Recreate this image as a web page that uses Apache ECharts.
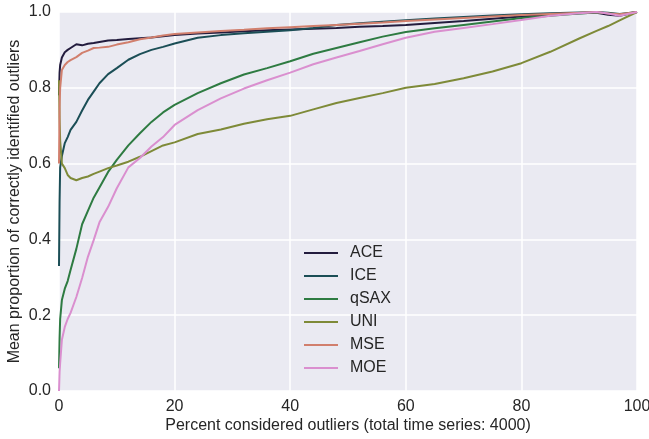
<!DOCTYPE html>
<html>
<head>
<meta charset="utf-8">
<script src="https://cdn.jsdelivr.net/npm/echarts@6/dist/echarts.min.js"></script>
<style>html,body{margin:0;padding:0;background:#fff}#c{width:649px;height:439px}</style>
</head>
<body>
<div id="c"></div>
<script>
const xs = [0, 0.1, 0.2, 0.5, 1, 1.5, 2, 3, 4, 5, 6, 7, 8.5, 10, 12, 14, 16, 18, 20, 24, 28, 32, 36, 40, 44, 48, 52, 56, 60, 65, 70, 75, 80, 85, 90, 93, 95, 97, 100];
const ACE  = [0.78, 0.84, 0.86, 0.88, 0.894, 0.90, 0.905, 0.915, 0.912, 0.916, 0.918, 0.921, 0.925, 0.926, 0.929, 0.931, 0.933, 0.936, 0.939, 0.943, 0.946, 0.949, 0.952, 0.954, 0.956, 0.958, 0.961, 0.963, 0.966, 0.971, 0.976, 0.982, 0.988, 0.993, 0.997, 0.998, 0.993, 0.990, 1.0];
const ICE  = [0.33, 0.50, 0.59, 0.62, 0.654, 0.67, 0.689, 0.71, 0.74, 0.768, 0.79, 0.812, 0.836, 0.852, 0.874, 0.889, 0.900, 0.908, 0.917, 0.932, 0.939, 0.944, 0.948, 0.952, 0.958, 0.966, 0.970, 0.974, 0.978, 0.983, 0.987, 0.991, 0.994, 0.997, 0.999, 1.0, 0.998, 0.995, 1.0];
const qSAX = [0.06, 0.14, 0.19, 0.24, 0.27, 0.29, 0.319, 0.375, 0.44, 0.475, 0.51, 0.537, 0.578, 0.61, 0.648, 0.68, 0.71, 0.735, 0.755, 0.786, 0.812, 0.835, 0.852, 0.87, 0.89, 0.905, 0.92, 0.935, 0.947, 0.957, 0.966, 0.975, 0.984, 0.99, 0.996, 0.999, 0.997, 0.993, 1.0];
const UNI  = [0.82, 0.72, 0.66, 0.60, 0.588, 0.57, 0.562, 0.556, 0.562, 0.566, 0.573, 0.579, 0.588, 0.595, 0.605, 0.618, 0.633, 0.648, 0.656, 0.678, 0.69, 0.705, 0.717, 0.726, 0.743, 0.76, 0.773, 0.786, 0.80, 0.81, 0.825, 0.843, 0.865, 0.895, 0.93, 0.95, 0.963, 0.978, 1.0];
const MSE  = [0.6, 0.75, 0.80, 0.847, 0.86, 0.868, 0.873, 0.881, 0.892, 0.898, 0.905, 0.906, 0.908, 0.914, 0.92, 0.928, 0.933, 0.938, 0.942, 0.946, 0.95, 0.953, 0.957, 0.96, 0.963, 0.966, 0.969, 0.972, 0.976, 0.98, 0.984, 0.988, 0.992, 0.995, 0.998, 1.0, 0.996, 0.994, 1.0];
const MOE  = [0.0, 0.05, 0.074, 0.135, 0.169, 0.19, 0.206, 0.248, 0.298, 0.354, 0.398, 0.445, 0.486, 0.535, 0.59, 0.615, 0.645, 0.67, 0.702, 0.741, 0.772, 0.798, 0.82, 0.84, 0.862, 0.88, 0.897, 0.915, 0.932, 0.948, 0.958, 0.968, 0.979, 0.99, 0.997, 1.0, 0.996, 0.99, 1.0];

const seriesNames = ['ACE', 'ICE', 'qSAX', 'UNI', 'MSE', 'MOE'];
const seriesValues = [ACE, ICE, qSAX, UNI, MSE, MOE];
const colors = ['#231c3e', '#1b4e56', '#2e7b42', '#7e8a38', '#d17f6d', '#da8fcf'];

const chart = echarts.init(document.getElementById('c'), null, {renderer: 'canvas'});
const font = 'Liberation Sans, Arial, sans-serif';
chart.setOption({
  animation: false,
  backgroundColor: '#ffffff',
  color: colors,
  grid: {left: 59, right: 12, top: 12, bottom: 48, show: true, backgroundColor: '#EAEAF2', borderWidth: 0, containLabel: false, outerBoundsMode: 'none'},
  legend: {
    data: seriesNames,
    orient: 'vertical',
    left: 304, top: 244, padding: 0,
    itemWidth: 34, itemHeight: 2, itemGap: 5,
    icon: 'rect',
    textStyle: {fontFamily: font, fontSize: 16, color: '#262626', lineHeight: 18, padding: [0, 0, 0, 7]}
  },
  xAxis: {
    type: 'value', min: 0, max: 100, interval: 20,
    name: 'Percent considered outliers (total time series: 4000)',
    nameLocation: 'middle', nameGap: 27, nameMoveOverlap: false,
    nameTextStyle: {fontFamily: font, fontSize: 16, color: '#262626'},
    axisLine: {show: false}, axisTick: {show: false},
    axisLabel: {fontFamily: font, fontSize: 16, color: '#262626', margin: 8},
    splitLine: {show: true, lineStyle: {color: '#ffffff', width: 1.5}}
  },
  yAxis: {
    type: 'value', min: 0, max: 1, interval: 0.2,
    name: 'Mean proportion of correctly identified outliers',
    nameLocation: 'middle', nameGap: 36, nameMoveOverlap: false,
    nameTextStyle: {fontFamily: font, fontSize: 16, color: '#262626'},
    axisLine: {show: false}, axisTick: {show: false},
    axisLabel: {fontFamily: font, fontSize: 16, color: '#262626', margin: 8, formatter: v => v.toFixed(1)},
    splitLine: {show: true, lineStyle: {color: '#ffffff', width: 1.5}}
  },
  series: seriesNames.map((n, i) => ({
    name: n, type: 'line', showSymbol: false, symbol: 'none',
    lineStyle: {width: 2, color: colors[i]},
    itemStyle: {color: colors[i]},
    data: xs.map((x, j) => [x, seriesValues[i][j]])
  }))
});
</script>
</body>
</html>
